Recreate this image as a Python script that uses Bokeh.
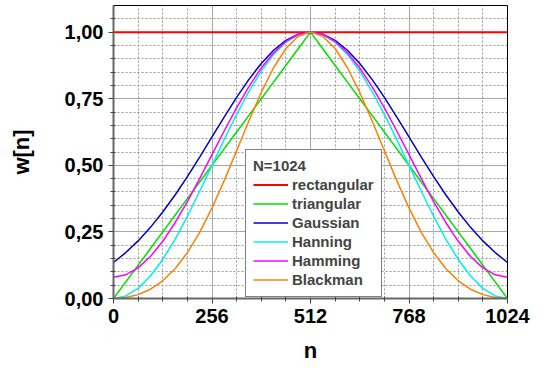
from bokeh.plotting import figure
from bokeh.models import FixedTicker, Legend, LegendItem, Range1d
from bokeh.embed import file_html
from bokeh.resources import INLINE

n = [0, 32, 64, 96, 128, 160, 192, 224, 256, 288, 320, 352, 384, 416, 448, 480,
     512, 544, 576, 608, 640, 672, 704, 736, 768, 800, 832, 864, 896, 928, 960, 992, 1024]

rectangular = [1.0] * 33

triangular = [0.0, 0.0625, 0.125, 0.1875, 0.25, 0.3125, 0.375, 0.4375, 0.5, 0.5625,
              0.625, 0.6875, 0.75, 0.8125, 0.875, 0.9375, 1.0, 0.9375, 0.875, 0.8125,
              0.75, 0.6875, 0.625, 0.5625, 0.5, 0.4375, 0.375, 0.3125, 0.25, 0.1875,
              0.125, 0.0625, 0.0]

gaussian = [0.1353, 0.1724, 0.2163, 0.2671, 0.3247, 0.3886, 0.4578, 0.5311, 0.6065,
            0.6820, 0.7548, 0.8226, 0.8825, 0.9321, 0.9692, 0.9922, 1.0, 0.9922,
            0.9692, 0.9321, 0.8825, 0.8226, 0.7548, 0.6820, 0.6065, 0.5311, 0.4578,
            0.3886, 0.3247, 0.2671, 0.2163, 0.1724, 0.1353]

hanning = [0.0, 0.0096, 0.0381, 0.0843, 0.1464, 0.2222, 0.3087, 0.4025, 0.5, 0.5975,
           0.6913, 0.7778, 0.8536, 0.9157, 0.9619, 0.9904, 1.0, 0.9904, 0.9619, 0.9157,
           0.8536, 0.7778, 0.6913, 0.5975, 0.5, 0.4025, 0.3087, 0.2222, 0.1464, 0.0843,
           0.0381, 0.0096, 0.0]

hamming = [0.08, 0.0888, 0.1150, 0.1575, 0.2147, 0.2844, 0.3640, 0.4503, 0.54, 0.6297,
           0.7160, 0.7956, 0.8653, 0.9225, 0.9650, 0.9912, 1.0, 0.9912, 0.9650, 0.9225,
           0.8653, 0.7956, 0.7160, 0.6297, 0.54, 0.4503, 0.3640, 0.2844, 0.2147, 0.1575,
           0.1150, 0.0888, 0.08]

blackman = [0.0, 0.0035, 0.0146, 0.0349, 0.0664, 0.1116, 0.1721, 0.2485, 0.34, 0.4436,
            0.5548, 0.6672, 0.7736, 0.8663, 0.9385, 0.9843, 1.0, 0.9843, 0.9385, 0.8663,
            0.7736, 0.6672, 0.5548, 0.4436, 0.34, 0.2485, 0.1721, 0.1116, 0.0664, 0.0349,
            0.0146, 0.0035, 0.0]

x_ticks = [0, 256, 512, 768, 1024]
x_minor = [64, 128, 192, 320, 384, 448, 576, 640, 704, 832, 896, 960]
y_ticks = [0.0, 0.25, 0.5, 0.75, 1.0]
y_labels = ["0,00", "0,25", "0,50", "0,75", "1,00"]
y_minor = [0.05, 0.1, 0.15, 0.2, 0.3, 0.35, 0.4, 0.45, 0.55, 0.6, 0.65, 0.7,
           0.8, 0.85, 0.9, 0.95, 1.05]

series = [
    ("rectangular", rectangular, "#ff0000", 2.0),
    ("triangular", triangular, "#00e000", 1.5),
    ("Gaussian", gaussian, "#0000cc", 1.5),
    ("Hanning", hanning, "#00f0f0", 1.5),
    ("Hamming", hamming, "#ff00ff", 1.5),
    ("Blackman", blackman, "#ff8000", 1.5),
]

FONT = "Liberation Sans"

p = figure(width=536, height=369, output_backend="svg", toolbar_location=None,
           x_range=Range1d(0, 1024), y_range=Range1d(0, 1.10),
           min_border_left=113, min_border_right=29, min_border_top=5,
           min_border_bottom=71)

p.outline_line_color = "black"
p.outline_line_width = 1
p.background_fill_color = "white"
p.border_fill_color = "white"

# grids
for g in (p.xgrid[0], p.ygrid[0]):
    g.grid_line_color = "#a8a8a8"
    g.grid_line_width = 1
    g.minor_grid_line_color = "#999999"
    g.minor_grid_line_dash = "2 2"
    g.minor_grid_line_width = 1

p.xaxis.ticker = FixedTicker(ticks=x_ticks, minor_ticks=x_minor)
p.yaxis.ticker = FixedTicker(ticks=y_ticks, minor_ticks=y_minor)
p.yaxis.major_label_overrides = {t: l for t, l in zip(y_ticks, y_labels)}

for ax in (p.xaxis[0], p.yaxis[0]):
    ax.axis_line_color = "#666666"
    ax.axis_line_width = 2
    ax.major_tick_line_color = "#444444"
    ax.minor_tick_line_color = "#444444"
    ax.major_tick_in = 0
    ax.major_tick_out = 5
    ax.minor_tick_in = 2
    ax.minor_tick_out = 3
    ax.major_label_text_font = FONT
    ax.major_label_text_font_style = "bold"
    ax.major_label_text_font_size = "20px"
    ax.major_label_text_color = "black"
    ax.axis_label_text_font = FONT
    ax.axis_label_text_font_style = "bold"
    ax.axis_label_text_font_size = "22px"
    ax.axis_label_text_color = "black"

p.xaxis.major_label_standoff = 5
p.yaxis.major_label_standoff = 5
p.xaxis.axis_label = "n"
p.yaxis.axis_label = "w[n]"
p.xaxis.axis_label_standoff = 12
p.yaxis.axis_label_standoff = 28

items = []
for name, vals, color, lw in series:
    r = p.line(n, vals, line_color=color, line_width=lw)
    items.append(LegendItem(label=name, renderers=[r]))

legend = Legend(items=items, location=(132, 1), title="N=1024",
                title_text_font=FONT, title_text_font_style="bold",
                title_text_font_size="15px", title_standoff=1,
                label_text_font=FONT, label_text_font_style="bold",
                label_text_font_size="15px", label_standoff=4,
                glyph_width=35, glyph_height=19, label_height=19,
                spacing=0, padding=7, margin=0,
                border_line_color="black", border_line_width=1,
                background_fill_color="white", background_fill_alpha=1.0)
p.add_layout(legend, "center")

open("out.html", "w").write(file_html(p, INLINE))
